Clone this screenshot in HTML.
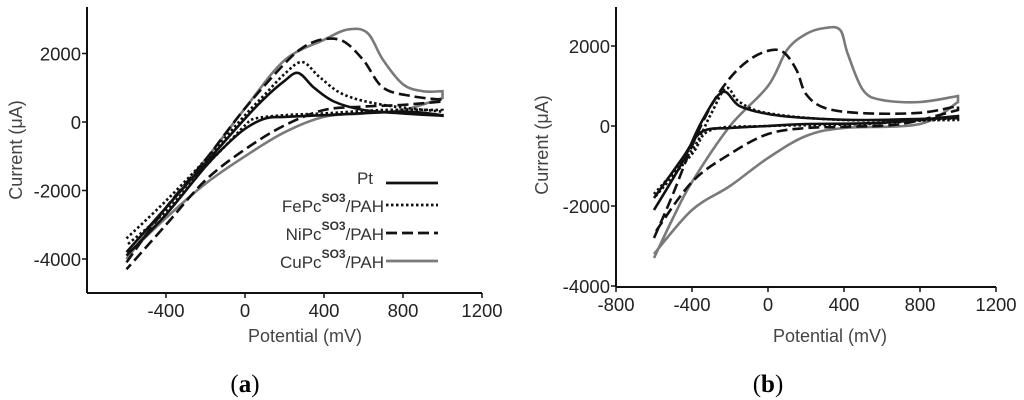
<!DOCTYPE html>
<html><head><meta charset="utf-8">
<style>
html,body{margin:0;padding:0;background:#fff;}
svg{display:block;font-family:"Liberation Sans",sans-serif;}
</style></head>
<body>
<svg id="chart" width="1024" height="400" viewBox="0 0 1024 400"></svg>
<script>
// Shared forward/reverse potentials per trace (mV) and currents (µA)
const aPtFx=[-600,-400,-200,0,100,200,270,350,450,600,800,1000];
const aPtFy=[-3800,-2500,-1200,100,700,1200,1430,1000,600,350,250,180];
const aPtRx=[1000,800,400,200,100,0,-100,-200,-400,-600];
const aPtRy=[200,300,200,150,100,-200,-700,-1300,-2700,-3900];
const aFeFx=[-600,-400,-200,0,100,200,290,380,500,700,1000];
const aFeFy=[-3400,-2300,-1100,200,800,1400,1750,1300,800,500,300];
const aFeRx=[1000,700,400,200,50,0,-100,-200,-400,-600];
const aFeRy=[350,350,250,200,100,-100,-700,-1300,-2600,-3600];
const aNiFx=[-600,-400,-200,0,200,300,400,500,600,700,850,1000];
const aNiFy=[-4100,-2500,-1100,400,1700,2200,2420,2350,1800,1000,750,650];
const aNiRx=[1000,800,600,400,200,0,-200,-400,-600];
const aNiRy=[600,500,450,350,-100,-800,-1700,-3000,-4300];
const aCuFx=[-600,-400,-200,0,200,400,520,620,700,800,900,1000];
const aCuFy=[-4000,-2500,-1100,400,1800,2400,2700,2600,1800,1100,900,900];
const aCuRx=[1000,800,600,400,200,0,-200,-400,-600];
const aCuRy=[700,350,250,150,-300,-1000,-1800,-2800,-3900];

const bPtFx=[-600,-450,-350,-240,-150,0,200,500,1000];
const bPtFy=[-2100,-900,100,850,500,300,200,150,200];
const bPtRx=[1000,600,200,0,-200,-350,-450,-600];
const bPtRy=[250,80,50,0,-50,-150,-800,-1800];
const bFeFx=[-600,-400,-300,-220,-150,0,400,1000];
const bFeFy=[-1700,-600,300,950,600,320,150,150];
const bFeRx=[1000,500,0,-300,-400,-600];
const bFeRy=[200,50,0,-100,-700,-1800];
const bNiFx=[-600,-500,-400,-300,-200,-100,0,80,150,200,300,500,800,1000];
const bNiFy=[-2800,-1700,-500,500,1200,1650,1880,1850,1400,800,450,320,330,500];
const bNiRx=[1000,700,400,200,0,-200,-400,-600];
const bNiRy=[400,50,-20,-50,-200,-700,-1400,-2700];
const bCuFx=[-600,-500,-400,-200,0,100,200,300,380,420,500,600,800,1000];
const bCuFy=[-3300,-2300,-1400,0,1000,1900,2300,2450,2400,1800,900,650,600,750];
const bCuRx=[1000,800,400,200,0,-200,-400,-600];
const bCuRy=[600,50,-50,-250,-800,-1500,-2100,-3200];

const xTicksA=[-400,0,400,800,1200];
const xTicksB=[-800,-400,0,400,800,1200];
const yTicksA=[2000,0,-2000,-4000];
const yTicksB=[2000,0,-2000,-4000];
const legendLabels=["Pt","FePc","NiPc","CuPc"];

const NS="http://www.w3.org/2000/svg";
const svg=document.getElementById('chart');
function mk(tag,attrs,parent){const e=document.createElementNS(NS,tag);for(const k in attrs)e.setAttribute(k,attrs[k]);(parent||svg).appendChild(e);return e;}

const styles={
 Pt:{stroke:"#111","stroke-width":2.6,fill:"none"},
 Fe:{stroke:"#111","stroke-width":2.6,fill:"none","stroke-dasharray":"2.5,2.5"},
 Ni:{stroke:"#111","stroke-width":2.6,fill:"none","stroke-dasharray":"11,5"},
 Cu:{stroke:"#7a7a7a","stroke-width":2.6,fill:"none"}
};
function smooth(pts,move){
 let d=(move?"M":"L")+pts[0][0].toFixed(1)+","+pts[0][1].toFixed(1);
 for(let i=0;i<pts.length-1;i++){
  const p0=pts[Math.max(0,i-1)],p1=pts[i],p2=pts[i+1],p3=pts[Math.min(pts.length-1,i+2)];
  const c1=[p1[0]+(p2[0]-p0[0])/6,p1[1]+(p2[1]-p0[1])/6];
  const c2=[p2[0]-(p3[0]-p1[0])/6,p2[1]-(p3[1]-p1[1])/6];
  d+="C"+c1[0].toFixed(1)+","+c1[1].toFixed(1)+" "+c2[0].toFixed(1)+","+c2[1].toFixed(1)+" "+p2[0].toFixed(1)+","+p2[1].toFixed(1);
 }
 return d;
}
function panel(cfg){
 const g=mk('g',{});
 
 
 const X=v=>cfg.x0+v*cfg.sx, Y=v=>cfg.y0-v*cfg.sy;
 const ax=mk('line',{x1:cfg.axX,y1:cfg.axTop,x2:cfg.axX,y2:cfg.axY,stroke:"#111","stroke-width":2},g);
 
 
 const axx=mk('line',{x1:cfg.axX,y1:cfg.axY,x2:X(1200),y2:cfg.axY,stroke:"#111","stroke-width":2},g);
 
 
 cfg.xt.forEach(t=>{
  mk('line',{x1:X(t),y1:cfg.axY,x2:X(t),y2:cfg.axY+5,stroke:"#111","stroke-width":1.5},g);
  const tx=mk('text',{x:X(t),y:cfg.axY+24,"text-anchor":"middle","font-size":18.5,fill:"#222"},g);
  tx.textContent=t;
  
  
 });
 cfg.yt.forEach(t=>{
  mk('line',{x1:cfg.axX-5,y1:Y(t),x2:cfg.axX,y2:Y(t),stroke:"#111","stroke-width":1.5},g);
  const tx=mk('text',{x:cfg.axX-6,y:Y(t)+7,"text-anchor":"end","font-size":18.5,fill:"#222"},g);
  tx.textContent=t;
  
  
 });
 const yl=mk('text',{x:0,y:0,transform:`translate(${cfg.ylx},${cfg.yly}) rotate(-90)`,"text-anchor":"middle","font-size":18,fill:"#444"},g);
 yl.textContent="Current (\u03bcA)";
 
 
 const xl=mk('text',{x:cfg.xlx,y:342,"text-anchor":"middle","font-size":18,fill:"#444"},g);
 xl.textContent="Potential (mV)";
 
 
 cfg.series.forEach(s=>{
  const f=[],r=[];
  s.fx.forEach((v,i)=>f.push([X(v),Y(s.fy[i])]));
  s.rx.forEach((v,i)=>r.push([X(v),Y(s.ry[i])]));
  const a=Object.assign({d:smooth(f,true)+smooth(r,false)},styles[s.k]);
  const p=mk('path',a,g);
  
  
 });
}
panel({name:'panel-a',x0:245,sx:79/400,y0:122,sy:68.5/2000,axX:87,axY:293,axTop:7,xt:xTicksA,yt:yTicksA,ylx:22,yly:150,xlx:305,
 series:[{k:'Cu',fx:aCuFx,fy:aCuFy,rx:aCuRx,ry:aCuRy},{k:'Ni',fx:aNiFx,fy:aNiFy,rx:aNiRx,ry:aNiRy},{k:'Fe',fx:aFeFx,fy:aFeFy,rx:aFeRx,ry:aFeRy},{k:'Pt',fx:aPtFx,fy:aPtFy,rx:aPtRx,ry:aPtRy}]});
panel({name:'panel-b',x0:768,sx:76/400,y0:126,sy:80/2000,axX:616,axY:287,axTop:7,xt:xTicksB,yt:yTicksB,ylx:548,yly:145,xlx:830,
 series:[{k:'Cu',fx:bCuFx,fy:bCuFy,rx:bCuRx,ry:bCuRy},{k:'Ni',fx:bNiFx,fy:bNiFy,rx:bNiRx,ry:bNiRy},{k:'Fe',fx:bFeFx,fy:bFeFy,rx:bFeRx,ry:bFeRy},{k:'Pt',fx:bPtFx,fy:bPtFy,rx:bPtRx,ry:bPtRy}]});

const keys=['Pt','Fe','Ni','Cu'];
const rowsY=[183,205,233,261];
keys.forEach((k,i)=>{
 const g=mk('g',{});
 
 
 const t=mk('text',{x:384,y:rowsY[i]+7,"text-anchor":"end","font-size":17,fill:"#333"},g);
 if(i===0){t.textContent=legendLabels[0];t.setAttribute('x',373);t.setAttribute('y',rowsY[i]+1);}
 else{
  t.textContent=legendLabels[i];
  const sup=mk('tspan',{dy:-10,"font-size":12,"font-weight":"bold"},t);sup.textContent="SO3";
  const r=mk('tspan',{dy:10},t);r.textContent="/PAH";
 }
 mk('line',Object.assign({x1:386,y1:rowsY[i],x2:438,y2:rowsY[i]},styles[k],{"stroke-width":2.8}),g);
});
["a","b"].forEach((c,i)=>{
 const t=mk('text',{x:i?768:245,y:392,"text-anchor":"middle","font-family":"Liberation Serif, serif","font-size":25,fill:"#000"});
 t.innerHTML='(<tspan font-weight="bold">'+c+'</tspan>)';
 
 
});
</script>
</body></html>
